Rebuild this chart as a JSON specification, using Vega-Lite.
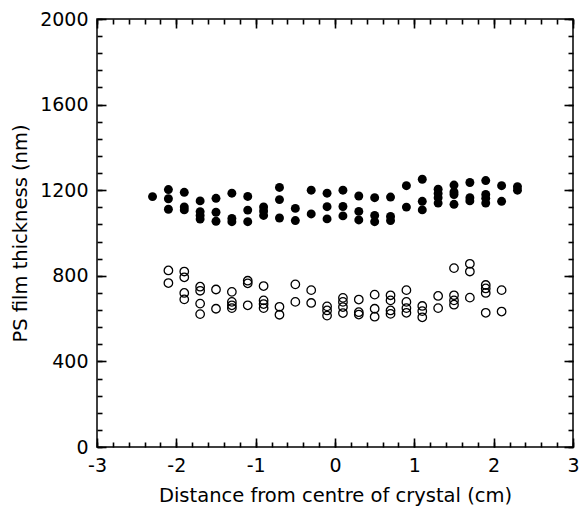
{
  "$schema": "https://vega.github.io/schema/vega-lite/v6.json",
  "width": 476,
  "height": 428,
  "autosize": {"type": "none"},
  "padding": {"left": 97, "top": 19, "right": 9, "bottom": 59},
  "background": "white",
  "config": {
    "view": {"stroke": "black", "strokeWidth": 1.5},
    "font": "DejaVu Sans",
    "axis": {
      "domain": false,
      "grid": false,
      "tickColor": "black",
      "tickWidth": 1.6,
      "labelColor": "black",
      "titleColor": "black",
      "labelFont": "DejaVu Sans",
      "titleFont": "DejaVu Sans",
      "labelFontSize": 19,
      "titleFontSize": 19.5,
      "titleFontWeight": "normal"
    }
  },
  "datasets": {
    "filled": [
      {"x": -2.3, "y": 1170},
      {"x": -2.1, "y": 1203}, {"x": -2.1, "y": 1160}, {"x": -2.1, "y": 1111},
      {"x": -1.9, "y": 1190}, {"x": -1.9, "y": 1122}, {"x": -1.9, "y": 1108},
      {"x": -1.7, "y": 1150}, {"x": -1.7, "y": 1100}, {"x": -1.7, "y": 1082}, {"x": -1.7, "y": 1065},
      {"x": -1.5, "y": 1162}, {"x": -1.5, "y": 1097}, {"x": -1.5, "y": 1055},
      {"x": -1.3, "y": 1186}, {"x": -1.3, "y": 1068}, {"x": -1.3, "y": 1053},
      {"x": -1.1, "y": 1171}, {"x": -1.1, "y": 1107}, {"x": -1.1, "y": 1053},
      {"x": -0.9, "y": 1122}, {"x": -0.9, "y": 1103}, {"x": -0.9, "y": 1082},
      {"x": -0.7, "y": 1213}, {"x": -0.7, "y": 1156}, {"x": -0.7, "y": 1070},
      {"x": -0.5, "y": 1115}, {"x": -0.5, "y": 1058},
      {"x": -0.3, "y": 1200}, {"x": -0.3, "y": 1089},
      {"x": -0.1, "y": 1186}, {"x": -0.1, "y": 1123}, {"x": -0.1, "y": 1066},
      {"x": 0.1, "y": 1200}, {"x": 0.1, "y": 1124}, {"x": 0.1, "y": 1080},
      {"x": 0.3, "y": 1173}, {"x": 0.3, "y": 1101}, {"x": 0.3, "y": 1061},
      {"x": 0.5, "y": 1165}, {"x": 0.5, "y": 1082}, {"x": 0.5, "y": 1053},
      {"x": 0.7, "y": 1168}, {"x": 0.7, "y": 1077}, {"x": 0.7, "y": 1058},
      {"x": 0.9, "y": 1221}, {"x": 0.9, "y": 1121},
      {"x": 1.1, "y": 1251}, {"x": 1.1, "y": 1148}, {"x": 1.1, "y": 1108},
      {"x": 1.3, "y": 1205}, {"x": 1.3, "y": 1185}, {"x": 1.3, "y": 1165}, {"x": 1.3, "y": 1140},
      {"x": 1.5, "y": 1224}, {"x": 1.5, "y": 1192}, {"x": 1.5, "y": 1180}, {"x": 1.5, "y": 1134},
      {"x": 1.7, "y": 1236}, {"x": 1.7, "y": 1165}, {"x": 1.7, "y": 1150},
      {"x": 1.9, "y": 1245}, {"x": 1.9, "y": 1180}, {"x": 1.9, "y": 1162}, {"x": 1.9, "y": 1140},
      {"x": 2.1, "y": 1221}, {"x": 2.1, "y": 1148},
      {"x": 2.3, "y": 1216}, {"x": 2.3, "y": 1200}
    ],
    "open": [
      {"x": -2.1, "y": 825}, {"x": -2.1, "y": 766},
      {"x": -1.9, "y": 820}, {"x": -1.9, "y": 793}, {"x": -1.9, "y": 720}, {"x": -1.9, "y": 690},
      {"x": -1.7, "y": 749}, {"x": -1.7, "y": 730}, {"x": -1.7, "y": 670}, {"x": -1.7, "y": 621},
      {"x": -1.5, "y": 736}, {"x": -1.5, "y": 646},
      {"x": -1.3, "y": 725}, {"x": -1.3, "y": 678}, {"x": -1.3, "y": 662}, {"x": -1.3, "y": 649},
      {"x": -1.1, "y": 777}, {"x": -1.1, "y": 765}, {"x": -1.1, "y": 662},
      {"x": -0.9, "y": 752}, {"x": -0.9, "y": 685}, {"x": -0.9, "y": 668}, {"x": -0.9, "y": 649},
      {"x": -0.7, "y": 655}, {"x": -0.7, "y": 618},
      {"x": -0.5, "y": 760}, {"x": -0.5, "y": 678},
      {"x": -0.3, "y": 733}, {"x": -0.3, "y": 673},
      {"x": -0.1, "y": 657}, {"x": -0.1, "y": 638}, {"x": -0.1, "y": 614},
      {"x": 0.1, "y": 697}, {"x": 0.1, "y": 678}, {"x": 0.1, "y": 654}, {"x": 0.1, "y": 626},
      {"x": 0.3, "y": 689}, {"x": 0.3, "y": 630}, {"x": 0.3, "y": 619},
      {"x": 0.5, "y": 712}, {"x": 0.5, "y": 646}, {"x": 0.5, "y": 609},
      {"x": 0.7, "y": 709}, {"x": 0.7, "y": 685}, {"x": 0.7, "y": 638}, {"x": 0.7, "y": 622},
      {"x": 0.9, "y": 733}, {"x": 0.9, "y": 678}, {"x": 0.9, "y": 649}, {"x": 0.9, "y": 627},
      {"x": 1.1, "y": 659}, {"x": 1.1, "y": 635}, {"x": 1.1, "y": 606},
      {"x": 1.3, "y": 706}, {"x": 1.3, "y": 649},
      {"x": 1.5, "y": 836}, {"x": 1.5, "y": 709}, {"x": 1.5, "y": 685}, {"x": 1.5, "y": 665},
      {"x": 1.7, "y": 856}, {"x": 1.7, "y": 820}, {"x": 1.7, "y": 698},
      {"x": 1.9, "y": 757}, {"x": 1.9, "y": 741}, {"x": 1.9, "y": 720}, {"x": 1.9, "y": 627},
      {"x": 2.1, "y": 733}, {"x": 2.1, "y": 633}
    ]
  },
  "layer": [
    {
      "data": {"name": "filled"},
      "mark": {"type": "point", "shape": "circle", "filled": true, "color": "black", "opacity": 1, "size": 80},
      "encoding": {
        "x": {"field": "x", "type": "quantitative", "scale": {"domain": [-3, 3], "nice": false, "zero": false},
          "axis": {"orient": "bottom", "values": [-3, -2, -1, 0, 1, 2, 3], "tickSize": -9, "labelPadding": 18, "labelFlush": false, "labelExpr": "datum.value + ''", "title": "Distance from centre of crystal (cm)", "titlePadding": 11}},
        "y": {"field": "y", "type": "quantitative", "scale": {"domain": [0, 2000], "nice": false, "zero": false},
          "axis": {"orient": "left", "values": [0, 400, 800, 1200, 1600, 2000], "tickSize": -9, "labelPadding": 18, "labelFlush": false, "labelExpr": "datum.value + ''", "title": "PS film thickness (nm)", "titlePadding": 9}}
      }
    },
    {
      "data": {"name": "open"},
      "mark": {"type": "point", "shape": "circle", "filled": false, "stroke": "black", "strokeWidth": 1.3, "opacity": 1, "size": 72},
      "encoding": {
        "x": {"field": "x", "type": "quantitative", "scale": {"domain": [-3, 3], "nice": false, "zero": false},
          "axis": {"orient": "bottom", "values": [-3, -2.8, -2.6, -2.4, -2.2, -2, -1.8, -1.6, -1.4, -1.2, -1, -0.8, -0.6, -0.4, -0.2, 0, 0.2, 0.4, 0.6, 0.8, 1, 1.2, 1.4, 1.6, 1.8, 2, 2.2, 2.4, 2.6, 2.8, 3], "tickSize": -5, "labels": false, "title": null}},
        "y": {"field": "y", "type": "quantitative", "scale": {"domain": [0, 2000], "nice": false, "zero": false},
          "axis": {"orient": "left", "values": [0, 80, 160, 240, 320, 400, 480, 560, 640, 720, 800, 880, 960, 1040, 1120, 1200, 1280, 1360, 1440, 1520, 1600, 1680, 1760, 1840, 1920, 2000], "tickSize": -5, "labels": false, "title": null}}
      }
    },
    {
      "data": {"name": "filled"},
      "mark": {"type": "point", "opacity": 0},
      "encoding": {
        "x": {"field": "x", "type": "quantitative", "scale": {"domain": [-3, 3], "nice": false, "zero": false},
          "axis": {"orient": "top", "values": [-3, -2, -1, 0, 1, 2, 3], "tickSize": -9, "labels": false, "title": null}},
        "y": {"field": "y", "type": "quantitative", "scale": {"domain": [0, 2000], "nice": false, "zero": false},
          "axis": {"orient": "right", "values": [0, 400, 800, 1200, 1600, 2000], "tickSize": -9, "labels": false, "title": null}}
      }
    },
    {
      "data": {"name": "filled"},
      "mark": {"type": "point", "opacity": 0},
      "encoding": {
        "x": {"field": "x", "type": "quantitative", "scale": {"domain": [-3, 3], "nice": false, "zero": false},
          "axis": {"orient": "top", "values": [-3, -2.8, -2.6, -2.4, -2.2, -2, -1.8, -1.6, -1.4, -1.2, -1, -0.8, -0.6, -0.4, -0.2, 0, 0.2, 0.4, 0.6, 0.8, 1, 1.2, 1.4, 1.6, 1.8, 2, 2.2, 2.4, 2.6, 2.8, 3], "tickSize": -5, "labels": false, "title": null}},
        "y": {"field": "y", "type": "quantitative", "scale": {"domain": [0, 2000], "nice": false, "zero": false},
          "axis": {"orient": "right", "values": [0, 80, 160, 240, 320, 400, 480, 560, 640, 720, 800, 880, 960, 1040, 1120, 1200, 1280, 1360, 1440, 1520, 1600, 1680, 1760, 1840, 1920, 2000], "tickSize": -5, "labels": false, "title": null}}
      }
    }
  ],
  "resolve": {"axis": {"x": "independent", "y": "independent"}}
}
